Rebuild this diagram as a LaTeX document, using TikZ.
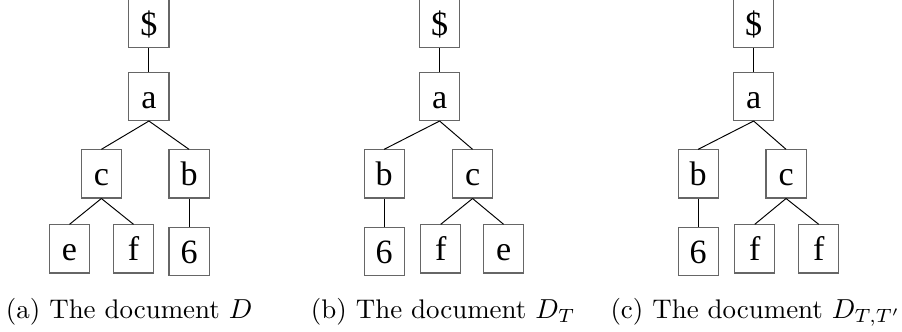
\documentclass[tikz,border=0pt]{standalone}
\usepackage{fontspec}
\newfontfamily\treefont{Liberation Serif}
\usepackage{tikz}

\begin{document}
\begin{tikzpicture}[
  box/.style={draw=black!60, line width=0.4pt, minimum width=14.6pt, inner xsep=0pt, inner ysep=0pt,
    text height=13.1pt, text depth=4.4pt, font=\treefont\fontsize{12.4}{14}\selectfont},
  edge/.style={draw=black, line width=0.35pt},
  captext/.style={anchor=base, inner sep=0pt, font=\fontsize{9.8}{12}\selectfont}]
\useasboundingbox (0,0) rectangle (328.3pt,-120.5pt);
% tree (a)
\begin{scope}[xshift=54.2pt]
\node[box] (Ad) at (0,-8.7pt) {\$};
\node[box] (Aa) at (0,-35.1pt) {a};
\node[box] (Ac) at (-17.3pt,-63.3pt) {c};
\node[box] (Ab) at (14.6pt,-63.3pt) {b};
\node[box] (Ae) at (-28.9pt,-90.6pt) {e};
\node[box] (Af) at (-5.6pt,-90.6pt) {f};
\node[box] (A6) at (14.6pt,-91.4pt) {6};
\draw[edge] (Ad.south) -- (Aa.north);
\draw[edge] (Aa.south) -- (Ac.north);
\draw[edge] (Aa.south) -- (Ab.north);
\draw[edge] (Ac.south) -- (Ae.north);
\draw[edge] (Ac.south) -- (Af.north);
\draw[edge] (Ab.south) -- (A6.north);
\end{scope}
\node[captext] (capA) at (47.0pt,-115.8pt) {(a) The document $D$};
% tree (b)
\begin{scope}[xshift=160.0pt]
\node[box] (Bd) at (0,-8.7pt) {\$};
\node[box] (Ba) at (0,-35.1pt) {a};
\node[box] (Bb) at (-20.2pt,-63.3pt) {b};
\node[box] (Bc) at (12.0pt,-63.3pt) {c};
\node[box] (B6) at (-20.2pt,-91.4pt) {6};
\node[box] (Bf) at (0.4pt,-90.6pt) {f};
\node[box] (Be) at (23.3pt,-90.6pt) {e};
\draw[edge] (Bd.south) -- (Ba.north);
\draw[edge] (Ba.south) -- (Bb.north);
\draw[edge] (Ba.south) -- (Bc.north);
\draw[edge] (Bb.south) -- (B6.north);
\draw[edge] (Bc.south) -- (Bf.north);
\draw[edge] (Bc.south) -- (Be.north);
\end{scope}
\node[captext] (capB) at (161.3pt,-115.8pt) {(b) The document $D_T$};
% tree (c)
\begin{scope}[xshift=274.3pt]
\node[box] (Cd) at (0,-8.7pt) {\$};
\node[box] (Ca) at (0,-35.1pt) {a};
\node[box] (Cb) at (-20.2pt,-63.3pt) {b};
\node[box] (Cc) at (11.8pt,-63.3pt) {c};
\node[box] (C6) at (-20.2pt,-91.4pt) {6};
\node[box] (Cf) at (0.4pt,-90.6pt) {f};
\node[box] (Cg) at (23.7pt,-90.6pt) {f};
\draw[edge] (Cd.south) -- (Ca.north);
\draw[edge] (Ca.south) -- (Cb.north);
\draw[edge] (Ca.south) -- (Cc.north);
\draw[edge] (Cb.south) -- (C6.north);
\draw[edge] (Cc.south) -- (Cf.north);
\draw[edge] (Cc.south) -- (Cg.north);
\end{scope}
\node[captext] (capC) at (275.0pt,-115.8pt) {(c) The document $D_{T,T'}$};
\end{tikzpicture}
\end{document}
